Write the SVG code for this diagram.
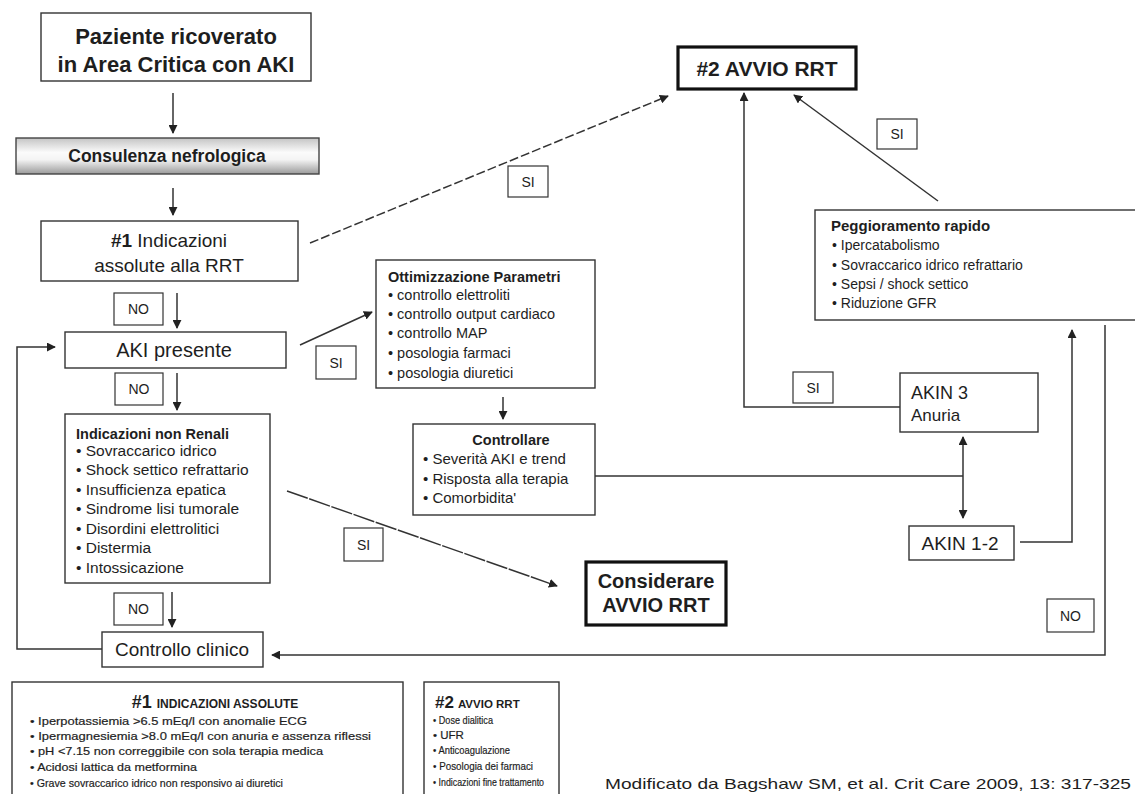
<svg xmlns="http://www.w3.org/2000/svg" width="1135" height="794" viewBox="0 0 1135 794">
<defs>
<linearGradient id="g1" x1="0" y1="0" x2="0" y2="1">
<stop offset="0" stop-color="#c4c4c4"/>
<stop offset="0.4" stop-color="#fbfbfb"/>
<stop offset="0.6" stop-color="#f4f4f4"/>
<stop offset="1" stop-color="#9a9a9a"/>
</linearGradient>
<marker id="ah" viewBox="0 0 10 10" refX="9" refY="5" markerWidth="9" markerHeight="9" markerUnits="userSpaceOnUse" orient="auto-start-reverse">
<path d="M0,0 L10,5 L0,10 z" fill="#222"/>
</marker>
</defs>
<style>
text{font-family:"Liberation Sans",Arial,sans-serif;fill:#1e1e1e}
.b{font-weight:bold}
.box{fill:#fff;stroke:#333;stroke-width:1.4}
.thick{fill:#fff;stroke:#111;stroke-width:3.2}
.lbl{fill:#fff;stroke:#333;stroke-width:1.2}
.ln{fill:none;stroke:#333;stroke-width:1.5}
.la{fill:none;stroke:#333;stroke-width:1.5;marker-end:url(#ah)}
.c{text-anchor:middle}
.s14{font-size:14px}
.lg{font-size:11.5px;stroke:#1e1e1e;stroke-width:0.2}
</style>
<rect width="1135" height="794" fill="#fff"/>

<g id="connectors">
<line class="la" x1="173" y1="93" x2="173" y2="133"/>
<line class="la" x1="173" y1="188" x2="173" y2="215"/>
<line class="la" x1="310" y1="243" x2="668" y2="96" stroke-dasharray="9,3"/>
<line class="la" x1="177" y1="293" x2="177" y2="328"/>
<line class="la" x1="177" y1="373" x2="177" y2="410"/>
<line class="la" x1="300" y1="345" x2="372" y2="312"/>
<line class="la" x1="503" y1="397" x2="503" y2="419"/>
<line class="la" x1="287" y1="491" x2="557" y2="586" stroke-dasharray="22,1.5"/>
<line class="la" x1="172" y1="592" x2="172" y2="627"/>
<polyline class="la" points="102,649 17,649 17,347 55,347"/>
<polyline class="la" points="900,407 744,407 744,93"/>
<line class="la" x1="938" y1="201" x2="794" y2="95"/>
<polyline class="ln" points="595,476 963,476"/>
<line class="la" x1="963" y1="476" x2="963" y2="437"/>
<line class="la" x1="963" y1="476" x2="963" y2="518"/>
<polyline class="la" points="1020,542 1072,542 1072,330"/>
<polyline class="la" points="1105,325 1105,655 272,655"/>
</g>

<g id="n-paziente">
<rect class="box" x="41" y="13" width="270" height="68"/>
<text class="b c" x="176" y="44" font-size="22">Paziente ricoverato</text>
<text class="b c" x="176" y="72" font-size="22">in Area Critica con AKI</text>
</g>

<g id="n-consulenza">
<rect x="16" y="138" width="303" height="36" fill="url(#g1)" stroke="#444" stroke-width="1.4"/>
<text class="b c" x="167" y="162" font-size="17.5">Consulenza nefrologica</text>
</g>

<g id="n-indicazioni1">
<rect class="box" x="41" y="221" width="257" height="60"/>
<text class="c" x="169" y="247" font-size="19"><tspan class="b">#1</tspan> Indicazioni</text>
<text class="c" x="169" y="272" font-size="19">assolute alla RRT</text>
</g>

<g id="n-avvio">
<rect class="thick" x="678" y="47" width="178" height="42"/>
<text class="b c" x="767" y="76" font-size="21">#2 AVVIO RRT</text>
</g>

<g id="l-si1">
<rect class="lbl" x="508" y="166" width="40" height="31"/>
<text class="c s14" x="528" y="187">SI</text>
</g>

<g id="l-si2">
<rect class="lbl" x="877" y="119" width="40" height="30"/>
<text class="c s14" x="897" y="139">SI</text>
</g>

<g id="n-peggioramento">
<rect class="box" x="815" y="210" width="330" height="110"/>
<text class="b" x="831" y="231" font-size="15">Peggioramento rapido</text>
<text x="832" y="250" font-size="14">• Ipercatabolismo</text>
<text x="832" y="270" font-size="14">• Sovraccarico idrico refrattario</text>
<text x="832" y="289" font-size="14">• Sepsi / shock settico</text>
<text x="832" y="308" font-size="14">• Riduzione GFR</text>
</g>

<g id="l-no1">
<rect class="lbl" x="114" y="293" width="49" height="32"/>
<text class="c s14" x="138.5" y="314">NO</text>
</g>

<g id="n-aki">
<rect class="box" x="65" y="332" width="221" height="36"/>
<text class="c" x="174" y="357" font-size="20">AKI presente</text>
</g>

<g id="l-si3">
<rect class="lbl" x="316" y="346" width="40" height="33"/>
<text class="c s14" x="336" y="368">SI</text>
</g>

<g id="n-ottimizzazione">
<rect class="box" x="376" y="260" width="219" height="128"/>
<text class="b" x="388" y="282" font-size="14.5">Ottimizzazione Parametri</text>
<text x="388" y="300" font-size="14.5">• controllo elettroliti</text>
<text x="388" y="319" font-size="14.5">• controllo output cardiaco</text>
<text x="388" y="338" font-size="14.5">• controllo MAP</text>
<text x="388" y="358" font-size="14.5">• posologia farmaci</text>
<text x="388" y="378" font-size="14.5">• posologia diuretici</text>
</g>

<g id="l-no2">
<rect class="lbl" x="115" y="373" width="48" height="32"/>
<text class="c s14" x="139" y="394">NO</text>
</g>

<g id="n-nonrenali">
<rect class="box" x="65" y="414" width="205" height="169"/>
<text class="b" x="76" y="439" font-size="14.5">Indicazioni non Renali</text>
<text x="76" y="456" font-size="15.5">• Sovraccarico idrico</text>
<text x="76" y="475" font-size="15.5">• Shock settico refrattario</text>
<text x="76" y="495" font-size="15.5">• Insufficienza epatica</text>
<text x="76" y="514" font-size="15.5">• Sindrome lisi tumorale</text>
<text x="76" y="534" font-size="15.5">• Disordini elettrolitici</text>
<text x="76" y="553" font-size="15.5">• Distermia</text>
<text x="76" y="573" font-size="15.5">• Intossicazione</text>
</g>

<g id="n-controllare">
<rect class="box" x="413" y="424" width="182" height="91"/>
<text class="b c" x="511" y="445" font-size="14.5">Controllare</text>
<text x="423" y="464" font-size="15">• Severità AKI e trend</text>
<text x="423" y="484" font-size="15">• Risposta alla terapia</text>
<text x="423" y="503" font-size="15">• Comorbidita'</text>
</g>

<g id="l-si4">
<rect class="lbl" x="793" y="372" width="40" height="31"/>
<text class="c s14" x="813" y="393">SI</text>
</g>

<g id="n-akin3">
<rect class="box" x="900" y="373" width="138" height="59"/>
<text x="911" y="399" font-size="18">AKIN 3</text>
<text x="911" y="421" font-size="17">Anuria</text>
</g>

<g id="n-akin12">
<rect class="box" x="909" y="526" width="105" height="34"/>
<text class="c" x="960" y="550" font-size="19">AKIN 1-2</text>
</g>

<g id="l-si5">
<rect class="lbl" x="344" y="528" width="39" height="33"/>
<text class="c s14" x="363.5" y="550">SI</text>
</g>

<g id="n-considerare">
<rect class="thick" x="586" y="562" width="140" height="63"/>
<text class="b c" x="656" y="588" font-size="20">Considerare</text>
<text class="b c" x="656" y="612" font-size="20">AVVIO RRT</text>
</g>

<g id="l-no3">
<rect class="lbl" x="1047" y="599" width="47" height="33"/>
<text class="c s14" x="1070.5" y="621">NO</text>
</g>

<g id="l-no4">
<rect class="lbl" x="114" y="593" width="49" height="32"/>
<text class="c s14" x="138.5" y="614">NO</text>
</g>

<g id="n-controllo">
<rect class="box" x="102" y="632" width="161" height="35"/>
<text class="c" x="182" y="656" font-size="19">Controllo clinico</text>
</g>

<g id="legend1">
<rect class="box" x="12" y="682" width="391" height="130"/>
<text class="b c" x="215" y="708"><tspan font-size="18">#1</tspan><tspan font-size="12" dx="5">INDICAZIONI ASSOLUTE</tspan></text>
<text class="lg" x="30" y="725" textLength="277" lengthAdjust="spacingAndGlyphs">• Iperpotassiemia &gt;6.5 mEq/l    con anomalie  ECG</text>
<text class="lg" x="30" y="740" textLength="341" lengthAdjust="spacingAndGlyphs">• Ipermagnesiemia  &gt;8.0 mEq/l  con anuria e assenza riflessi</text>
<text class="lg" x="30" y="755" textLength="293" lengthAdjust="spacingAndGlyphs">• pH  &lt;7.15 non correggibile con sola terapia medica</text>
<text class="lg" x="30" y="771" textLength="167" lengthAdjust="spacingAndGlyphs">• Acidosi lattica da metformina</text>
<text class="lg" x="30" y="787" textLength="253" lengthAdjust="spacingAndGlyphs">• Grave sovraccarico idrico non responsivo ai diuretici</text>
</g>

<g id="legend2">
<rect class="box" x="424" y="682" width="135" height="130"/>
<text class="b" x="435" y="708"><tspan font-size="17">#2</tspan><tspan font-size="11.5" dx="4">AVVIO RRT</tspan></text>
<text class="lg" x="433" y="724" textLength="60" lengthAdjust="spacingAndGlyphs">• Dose dialitica</text>
<text class="lg" x="433" y="739">• UFR</text>
<text class="lg" x="433" y="754" textLength="77" lengthAdjust="spacingAndGlyphs">• Anticoagulazione</text>
<text class="lg" x="433" y="770" textLength="100" lengthAdjust="spacingAndGlyphs">• Posologia dei farmaci</text>
<text class="lg" x="433" y="786" textLength="111" lengthAdjust="spacingAndGlyphs">• Indicazioni  fine trattamento</text>
</g>

<g id="citation">
<text x="605" y="789" font-size="15" textLength="526" lengthAdjust="spacingAndGlyphs">Modificato da Bagshaw SM, et al. Crit Care 2009, 13: 317-325</text>
</g>
</svg>
